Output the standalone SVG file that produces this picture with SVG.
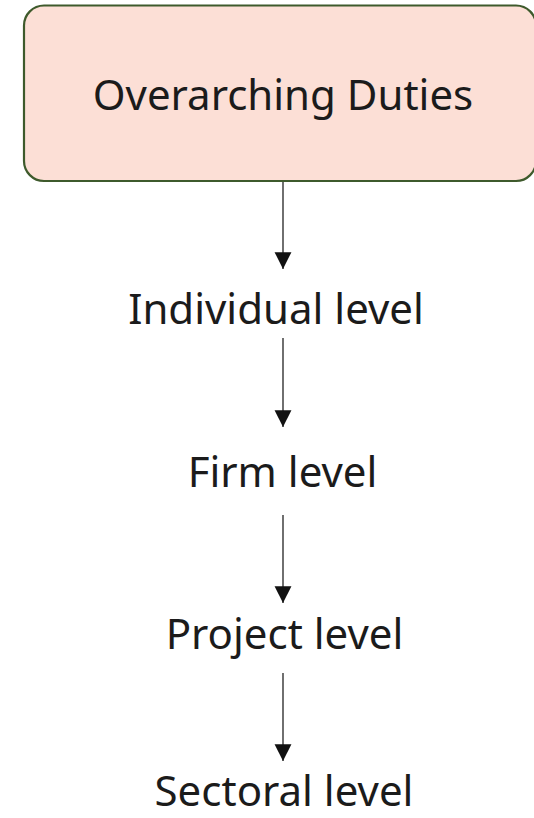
<svg xmlns="http://www.w3.org/2000/svg" width="534" height="818" viewBox="0 0 534 818">
  <defs>
    <marker id="arrow" markerUnits="userSpaceOnUse" markerWidth="18" markerHeight="18" viewBox="0 0 16 15" refX="15" refY="7.5" orient="auto">
      <path d="M0,0 L15,7.5 L0,15 Z" fill="#111"/>
    </marker>
    <style>
      .label { font-family: "Noto Sans", "Open Sans", sans-serif; font-size: 42px; fill: #1b1b1b; text-anchor: middle; }
      .edge { stroke: #333; stroke-width: 1.4; fill: none; marker-end: url(#arrow); }
      .box { fill: #fcdfd6; stroke: #3e5a2c; stroke-width: 2.2; }
    </style>
  </defs>
  <rect width="534" height="818" fill="#ffffff"/>
  <g id="connectors">
    <line class="edge" x1="283" y1="182" x2="283" y2="269"/>
    <line class="edge" x1="283" y1="338" x2="283" y2="427"/>
    <line class="edge" x1="283" y1="515" x2="283" y2="603"/>
    <line class="edge" x1="283" y1="673" x2="283" y2="761"/>
  </g>
  <g id="overarching">
    <rect class="box" x="24" y="5.5" width="512" height="175.5" rx="20" ry="20"/>
    <text class="label" x="283" y="109.5">Overarching Duties</text>
  </g>
  <g id="individual">
    <text class="label" x="276" y="324">Individual level</text>
  </g>
  <g id="firm">
    <text class="label" x="282.5" y="487">Firm level</text>
  </g>
  <g id="project">
    <text class="label" x="284.5" y="649">Project level</text>
  </g>
  <g id="sectoral">
    <text class="label" x="284" y="806">Sectoral level</text>
  </g>
</svg>
